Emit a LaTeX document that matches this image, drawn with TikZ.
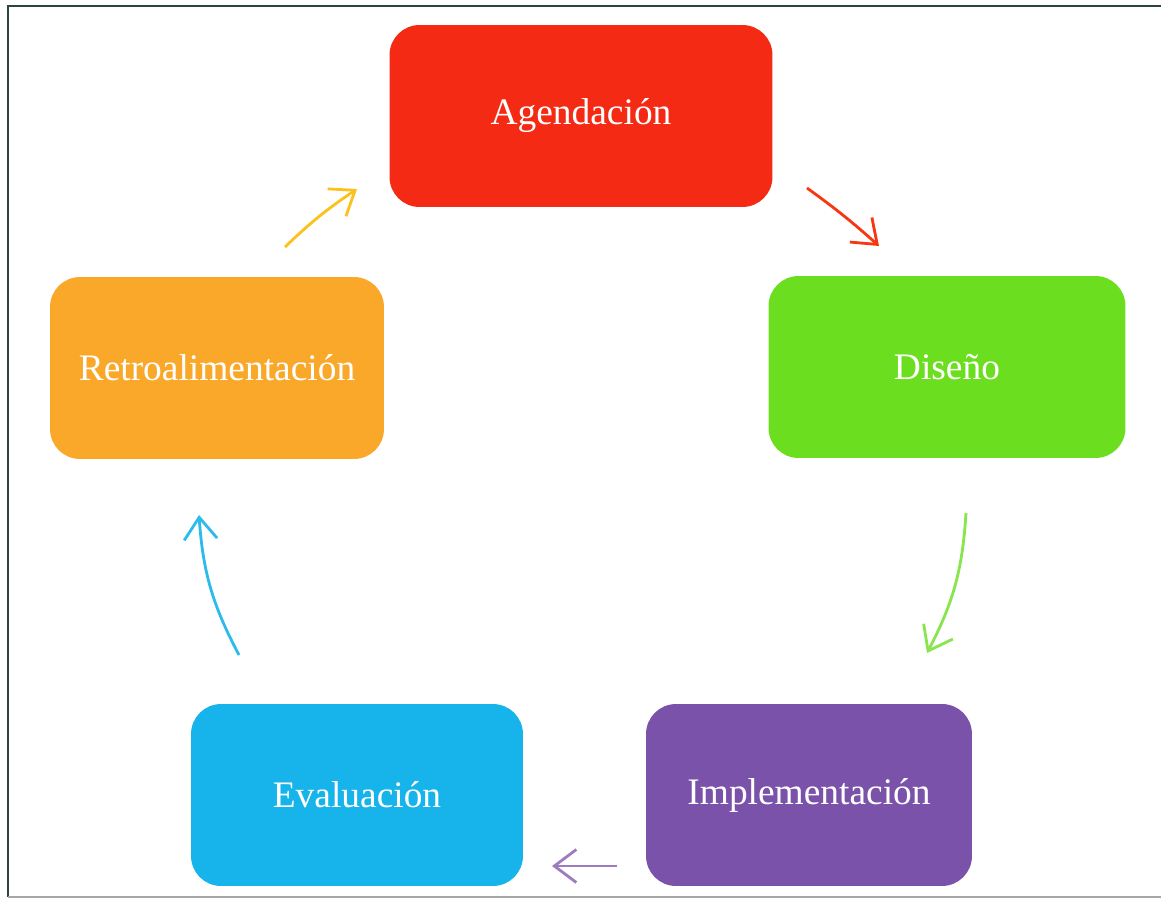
\documentclass[tikz,border=0pt]{standalone}
\usepackage{fontspec}
\setmainfont{Liberation Serif}
\usepackage{xcolor}
\usetikzlibrary{arrows.meta,calc,positioning}
\definecolor{cagenda}{RGB}{245,42,20}
\definecolor{cdiseno}{RGB}{108,222,32}
\definecolor{cimpl}{RGB}{122,82,170}
\definecolor{ceval}{RGB}{22,180,234}
\definecolor{cretro}{RGB}{250,168,42}
\definecolor{cframe}{RGB}{45,70,55}
\tikzset{%
	phase/.style  = {rectangle, rounded corners=0.6cm, minimum height=3.64cm, text=white, font=\fontsize{21.3}{25}\selectfont}, % Stage box
	cycle/.style  = {line width=1.6pt, -{Straight Barb[length=0.44cm,width=0.66cm,line width=1.6pt]}}, % Arrow between stages
}
\begin{document}
\begin{tikzpicture}[x=0.02cm,y=-0.02cm]
		\useasboundingbox (0,0) rectangle (1161,900);
		% frame
		\draw[cframe,line width=1.2pt] (1170,6) -- (8,6) -- (8,897);
		\draw[black!35,line width=1pt] (8,897) -- (1170,897);
		% stages
		\node[phase,fill=cagenda,minimum width=7.66cm] (agenda) at (581,116) {Agendación};
		\node[phase,fill=cdiseno,minimum width=7.14cm] (diseno) at (947,367) {Diseño};
		\node[phase,fill=cimpl,minimum width=6.52cm] (impl) at (809,795) {Implementación};
		\node[phase,fill=ceval,minimum width=6.64cm] (eval) at (357,795) {Evaluación};
		\node[phase,fill=cretro,minimum width=6.68cm] (retro) at (217,368) {Retroalimentación};
		% arrow ends
		\coordinate (ag1) at (807,188);
		\coordinate (ag2) at (879,246);
		\coordinate (di1) at (966,513);
		\coordinate (di2) at (927,653);
		\coordinate (im1) at (617,866);
		\coordinate (im2) at (552,866);
		\coordinate (ev1) at (239,655);
		\coordinate (ev2) at (199,515);
		\coordinate (re1) at (285,247);
		\coordinate (re2) at (357,189);
		\draw[cycle,color=cagenda!85!orange] (ag1) to[bend left=3] (ag2);
		\draw[cycle,color=cdiseno!80!white] (di1) to[bend left=12] (di2);
		\draw[cycle,color=cimpl!75!white] (im1) -- (im2);
		\draw[cycle,color=ceval!90!white] (ev1) to[bend left=12] (ev2);
		\draw[cycle,color=cretro!70!yellow] (re1) to[bend left=5] (re2);
		\end{tikzpicture}
\end{document}
